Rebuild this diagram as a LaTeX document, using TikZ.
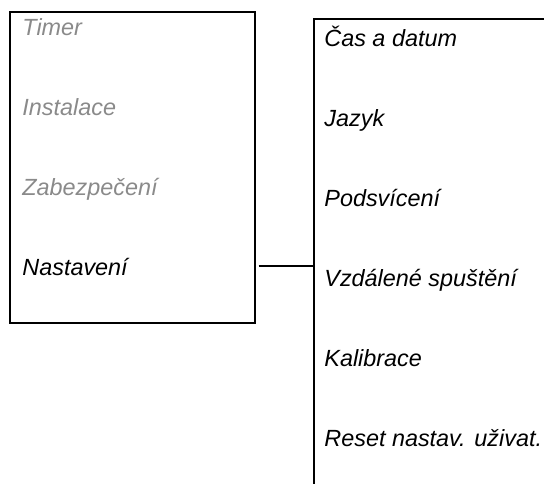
\documentclass[tikz,border=0pt]{standalone}
\usepackage{fontspec}
\setmainfont{Liberation Sans}
\usepackage{xcolor}
\usepackage{tikz}
\usetikzlibrary{positioning, calc}
\definecolor{itemGray}{HTML}{8A8A8A}

\begin{document}
\begin{tikzpicture}[x=0.5pt, y=-0.5pt,
    mitem/.style={anchor=base west, inner sep=0pt, font=\itshape\fontsize{11.7}{13.5}\selectfont},
    off/.style={mitem, text=itemGray},
    on/.style={mitem, text=black},
    mline/.style={line width=1.1pt, black}
  ]
  \useasboundingbox (0,0) rectangle (544,483);

  % main menu
  \node[draw, mline, rectangle, inner sep=0pt, minimum width=122.5pt, minimum height=155.5pt,
    anchor=north west] (menu) at (8.5,11) {};
  \node[off] (timer) at (22,35.7) {Timer};
  \node[off] (instal) at (22,115.7) {Instalace};
  \node[off] (secure) at (22,195.7) {Zabezpečení};
  \node[on] (settings) at (22,275.7) {Nastavení};

  % submenu
  \coordinate (subtop) at (314,19);
  \coordinate (subend) at (544,19);
  \coordinate (subbot) at (314,484);
  \node[on] (clock) at (324,46) {Čas a datum};
  \node[on] (lang) at (324,126) {Jazyk};
  \node[on] (light) at (324,206) {Podsvícení};
  \node[on] (remote) at (324,286) {Vzdálené spuštění};
  \node[on] (calib) at (324,366) {Kalibrace};
  \node[on] (reset) at (324,446) {Reset nastav. uživat.};

  \draw[mline] (subbot) -- (subtop) -- (subend);
  \coordinate (link) at (314,266);
  \draw[mline] (menu.east |- link) ++(3,0) -- (link);
\end{tikzpicture}
\end{document}
